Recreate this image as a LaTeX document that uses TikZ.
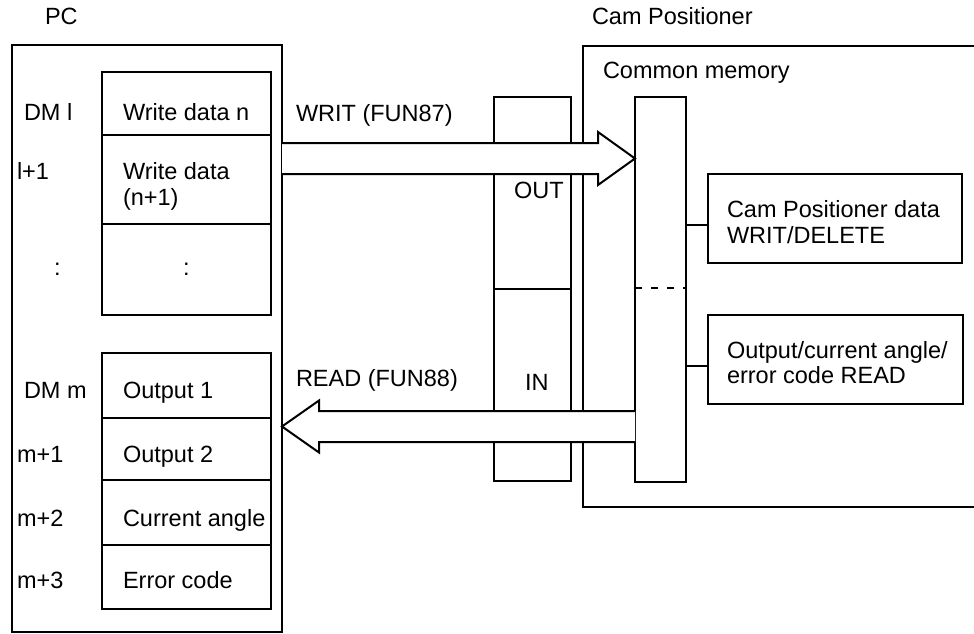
\documentclass[tikz,border=0pt]{standalone}
\usepackage{fontspec}
\setmainfont{Liberation Sans}
\usetikzlibrary{calc}
\begin{document}
\begin{tikzpicture}[x=1pt,y=-1pt,
  every node/.style={inner sep=0pt, outer sep=0pt},
  lw/.style={line width=2pt},
  cell/.style={draw, lw, rectangle, anchor=north west},
  txt/.style={anchor=base west, font=\fontsize{23.5}{26}\selectfont},
  fat/.style={draw, lw, fill=white, line join=miter}
]
\useasboundingbox (0,0) rectangle (974,634);

% PC
\node[cell, minimum width=270pt, minimum height=587pt] (pc) at (12,45) {};
\node[txt] (pcl) at (45,25) {PC};
% upper cells
\node[cell, minimum width=169pt, minimum height=63pt] (w1) at (102,72) {};
\node[cell, minimum width=169pt, minimum height=89pt] (w2) at (102,135) {};
\node[cell, minimum width=169pt, minimum height=91pt] (w3) at (102,224) {};
% lower cells
\node[cell, minimum width=169pt, minimum height=65pt] (o1) at (102,353) {};
\node[cell, minimum width=169pt, minimum height=62pt] (o2) at (102,418) {};
\node[cell, minimum width=169pt, minimum height=65pt] (o3) at (102,480) {};
\node[cell, minimum width=169pt, minimum height=64pt] (o4) at (102,545) {};

\node[txt] (t1) at (24,120) {DM l};
\node[txt] (t2) at (123,120) {Write data n};
\node[txt] (t3) at (17,179) {l+1};
\node[txt] (t4) at (123,179) {Write data};
\node[txt] (t5) at (123,205) {(n+1)};
\node[txt] (t6) at (54,275) {:};
\node[txt] (t7) at (183,275) {:};
\node[txt] (t8) at (24,398) {DM m};
\node[txt] (t9) at (123,398) {Output 1};
\node[txt] (t10) at (17,462) {m+1};
\node[txt] (t11) at (123,462) {Output 2};
\node[txt] (t12) at (17,526) {m+2};
\node[txt] (t13) at (123,526) {Current angle};
\node[txt] (t14) at (17,588) {m+3};
\node[txt] (t15) at (123,588) {Error code};

% OUT / IN
\node[cell, minimum width=77pt, minimum height=192pt] (out) at (494,97) {};
\node[cell, minimum width=77pt, minimum height=192pt] (in) at (494,289) {};
\node[txt] (outl) at (514,198) {OUT};
\node[txt] (inl) at (525,390) {IN};

% Cam Positioner
\node[txt] (cpl) at (592,25) {Cam Positioner};
\draw[lw] (990,46) -- (583,46) coordinate (cpnw) -- (583,507) -- (990,507);
\node[txt] (cml) at (603,78) {Common memory};
\node[cell, minimum width=51pt, minimum height=385pt] (cm) at (635,97) {};
\draw[lw, dash pattern=on 7pt off 9pt] (cm.west |- 0,288) -- (cm.east |- 0,288);

\node[cell, minimum width=254pt, minimum height=89pt] (b1) at (708,174) {};
\node[cell, minimum width=255pt, minimum height=89pt] (b2) at (708,315) {};
\node[txt] (b1a) at (727,217) {Cam Positioner data};
\node[txt] (b1b) at (727,243) {WRIT/DELETE};
\node[txt] (b2a) at (727,358) {Output/current angle/};
\node[txt] (b2b) at (727,383) {error code READ};
\draw[lw] (cm.east |- 0,225) -- (b1.west |- 0,225);
\draw[lw] (cm.east |- 0,366) -- (b2.west |- 0,366);

% WRIT arrow
\draw[fat] (pc.east |- 0,143) -- (598,143) -- (598,132) -- (cm.west |- 0,158.5)
  -- (598,185) -- (598,174) -- (pc.east |- 0,174);
\node[txt] (wl) at (296,121) {WRIT (FUN87)};
% READ arrow
\draw[fat] (cm.west |- 0,411) -- (319,411) -- (319,400.5) -- (pc.east |- 0,426.5)
  -- (319,452.5) -- (319,442) -- (cm.west |- 0,442);
\node[txt] (rl) at (296,386) {READ (FUN88)};
\end{tikzpicture}
\end{document}
